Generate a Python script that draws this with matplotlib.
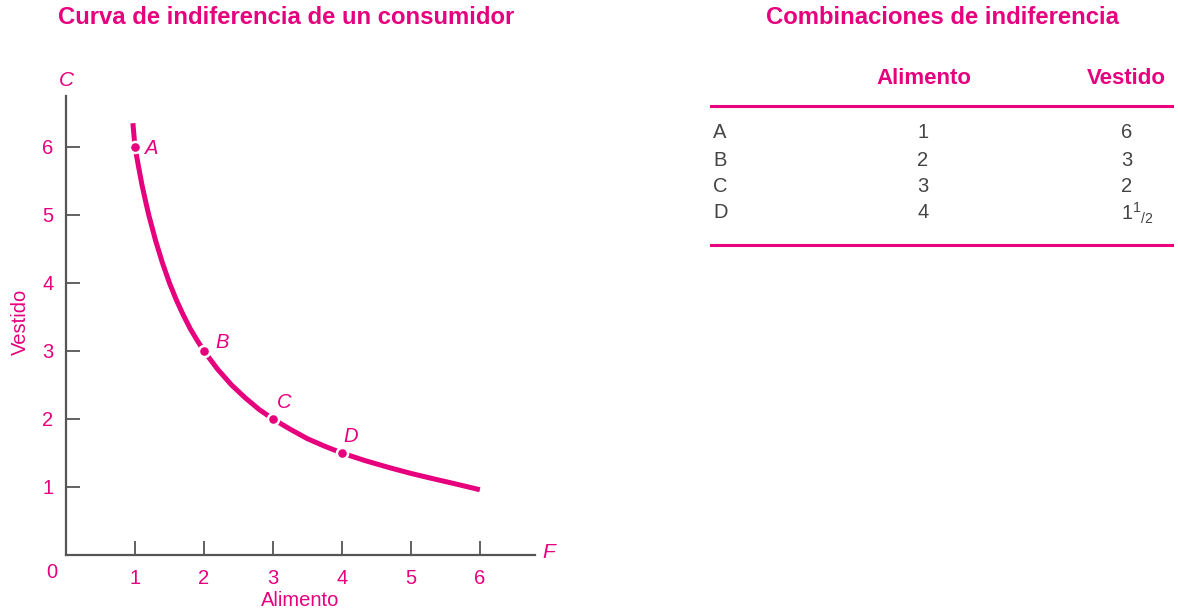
import matplotlib
matplotlib.use("Agg")
import matplotlib.pyplot as plt

plt.rcParams['font.family'] = ['Liberation Sans', 'DejaVu Sans']
plt.rcParams['mathtext.fontset'] = 'custom'
plt.rcParams['mathtext.rm'] = 'Liberation Sans'
plt.rcParams['mathtext.it'] = 'Liberation Sans:italic'

PINK = '#e6007e'
GREY = '#555555'
TXT = '#444444'

# curva (alimento F, vestido C)
curva_f = [0.97, 1.0, 1.05, 1.1, 1.15, 1.2, 1.3, 1.4, 1.5, 1.6, 1.7, 1.8,
           1.9, 2.0, 2.2, 2.4, 2.6, 2.8, 3.0, 3.25, 3.5, 3.75, 4.0, 4.33,
           4.67, 5.0, 5.33, 5.67, 6.0]
curva_c = [6.35, 6.0, 5.72, 5.45, 5.22, 5.0, 4.62, 4.29, 4.0, 3.75, 3.53,
           3.33, 3.16, 3.0, 2.73, 2.5, 2.31, 2.14, 2.0, 1.85, 1.71, 1.6,
           1.5, 1.39, 1.29, 1.2, 1.12, 1.04, 0.96]

# combinaciones
puntos = ['A', 'B', 'C', 'D']
alimento = [1, 2, 3, 4]
vestido = [6, 3, 2, 1.5]
vestido_txt = ['6', '3', '2', r'1$\mathregular{^{1}{}_{/2}}$']
ticks = [1, 2, 3, 4, 5, 6]

W, H = 1178, 612
fig = plt.figure(figsize=(W / 100, H / 100), dpi=100)


def fx(x):
    return x / W


def fy(y):
    return 1 - y / H


# --- grafico ---
ax = fig.add_axes([fx(66), fy(555), 469 / W, 459 / H])
ax.set_xlim(0, 6.8)
ax.set_ylim(0, 6.75)
for s in ['top', 'right']:
    ax.spines[s].set_visible(False)
for s in ['left', 'bottom']:
    ax.spines[s].set_color(GREY)
    ax.spines[s].set_linewidth(1.6)
ax.set_xticks(ticks)
ax.set_yticks(ticks)
ax.tick_params(direction='in', length=10, width=1.3, color=GREY,
               labelcolor=PINK, labelsize=14.5)
ax.tick_params(axis='x', pad=10)
ax.tick_params(axis='y', pad=9)

ax.plot(curva_f, curva_c, color=PINK, lw=3.6, solid_capstyle='butt',
        solid_joinstyle='round', zorder=3)
ax.plot(alimento, vestido, 'o', color=PINK, ms=8, mec='white', mew=1.8,
        zorder=4, clip_on=False)
offs = [(7, -5), (8, 2), (3, 8), (1, 8)]
for p, f, c, o in zip(puntos, alimento, vestido, offs):
    ax.annotate(p, (f, c), xytext=o, textcoords='offset points',
                color=PINK, fontsize=14.5, style='italic')

fig.text(fx(52), fy(573), '0', color=PINK, fontsize=14.5, ha='center', va='center')
fig.text(fx(66), fy(80), 'C', color=PINK, fontsize=15, style='italic',
         ha='center', va='center')
fig.text(fx(549), fy(553), 'F', color=PINK, fontsize=15, style='italic',
         ha='center', va='center')
fig.text(fx(20), fy(322), 'Vestido', color=PINK, fontsize=14.5, rotation=90,
         ha='center', va='center')
fig.text(fx(300), fy(601), 'Alimento', color=PINK, fontsize=14.5,
         ha='center', va='center')

fig.text(fx(286), fy(17), 'Curva de indiferencia de un consumidor', color=PINK,
         fontsize=17.2, fontweight='bold', ha='center', va='center')

# --- tabla ---
fig.text(fx(943), fy(17), 'Combinaciones de indiferencia', color=PINK,
         fontsize=17.2, fontweight='bold', ha='center', va='center')
fig.text(fx(924), fy(79), 'Alimento', color=PINK, fontsize=16,
         fontweight='bold', ha='center', va='center')
fig.text(fx(1166), fy(79), 'Vestido', color=PINK, fontsize=16,
         fontweight='bold', ha='right', va='center')
for yl in [106, 245]:
    fig.add_artist(plt.Line2D([fx(711), fx(1172)], [fy(yl), fy(yl)],
                              color=PINK, lw=2.2))
row_y = [133, 160, 187, 213]
for p, a, v, y in zip(puntos, alimento, vestido_txt, row_y):
    fig.text(fx(713), fy(y), p, color=TXT, fontsize=14.5, va='center')
    fig.text(fx(923), fy(y), str(a), color=TXT, fontsize=14.5,
             ha='center', va='center')
    fig.text(fx(1121), fy(y), v, color=TXT, fontsize=14.5, va='center')

fig.savefig('out.png', dpi=100)
